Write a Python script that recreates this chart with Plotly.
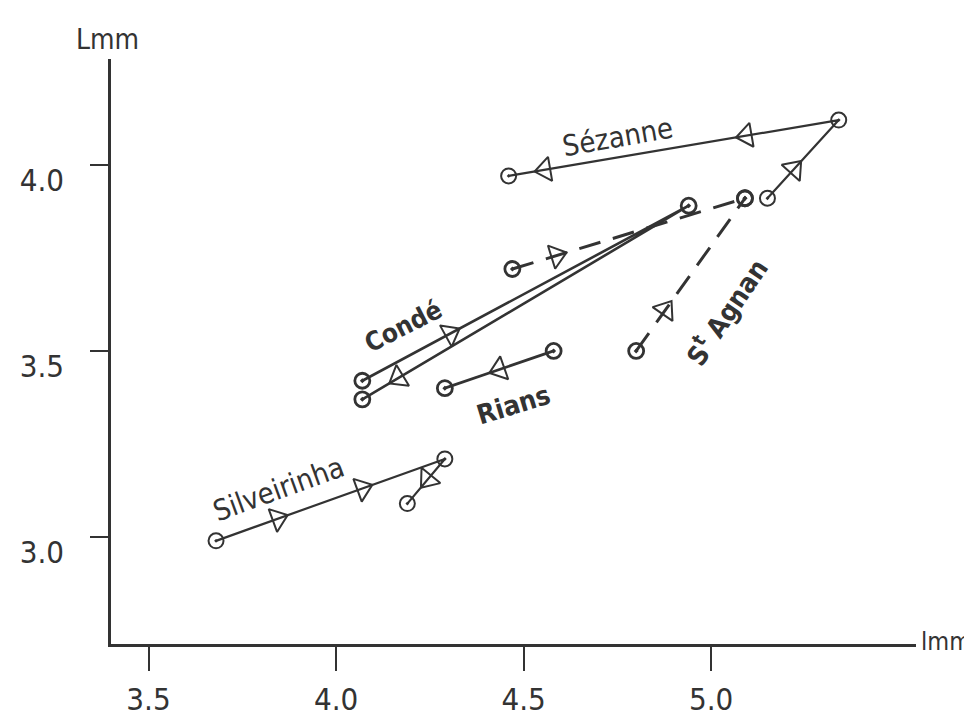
import plotly.graph_objects as go

# ---------------- data ----------------
sil_x = [3.68, 4.29, 4.19]
sil_y = [2.99, 3.21, 3.09]

rians_x = [4.58, 4.29]
rians_y = [3.50, 3.40]

conde_x = [4.07, 4.94, 4.07]
conde_y = [3.42, 3.89, 3.37]

sez_x = [5.15, 5.34, 4.46]
sez_y = [3.91, 4.12, 3.97]

agnan1_x = [4.80, 5.09]
agnan1_y = [3.50, 3.91]

agnan2_x = [4.47, 5.09]
agnan2_y = [3.72, 3.91]

x_ticks = [3.5, 4.0, 4.5, 5.0]
x_tick_labels = ["3.5", "4.0", "4.5", "5.0"]
y_ticks = [3.0, 3.5, 4.0]
y_tick_labels = ["3.0", "3.5", "4.0"]

# ---------------- styling ----------------
INK = "#333333"
FONT = "DejaVu Sans Condensed, DejaVu Sans, sans-serif"

fig = go.Figure()


def add_path(xs, ys, dash="solid", arrow_fracs=None, circle_width=2.2, lw=2.4):
    fig.add_trace(go.Scatter(
        x=xs, y=ys, mode="lines+markers",
        line=dict(color=INK, width=lw, dash=dash),
        marker=dict(symbol="circle-open-dot", size=15, color=INK, opacity=1,
                    line=dict(color=INK, width=circle_width)),
        hoverinfo="skip", showlegend=False))
    if arrow_fracs:
        for i, fracs in enumerate(arrow_fracs):
            x0, y0, x1, y1 = xs[i], ys[i], xs[i + 1], ys[i + 1]
            for f in fracs:
                ax = x0 + f * (x1 - x0)
                ay = y0 + f * (y1 - y0)
                fig.add_trace(go.Scatter(
                    x=[x0, ax], y=[y0, ay], mode="markers",
                    marker=dict(symbol="triangle-up-open", size=[0, 21],
                                angleref="previous", angle=0, opacity=1,
                                color=INK, line=dict(color=INK, width=2.0)),
                    hoverinfo="skip", showlegend=False))


add_path(sil_x, sil_y, arrow_fracs=[[0.27, 0.64], [0.46]], circle_width=2.0, lw=2.2)
add_path(rians_x, rians_y, arrow_fracs=[[0.5]], circle_width=2.8, lw=2.8)
add_path(conde_x, conde_y, arrow_fracs=[[0.27], [0.89]], circle_width=2.8, lw=2.6)
add_path(sez_x, sez_y, arrow_fracs=[[0.375], [0.28, 0.89]], circle_width=2.0, lw=2.2)
add_path(agnan1_x, agnan1_y, dash="22px,13px", arrow_fracs=[[0.27]], circle_width=2.8, lw=3)
add_path(agnan2_x, agnan2_y, dash="22px,13px", arrow_fracs=[[0.19]], circle_width=2.8, lw=3)

# ---------------- series labels ----------------
labels = [
    ("Sézanne", 4.75, 4.075, -10, False, 29),
    ("Condé", 4.18, 3.567, -27, True, 26),
    ("Rians", 4.474, 3.355, -17, True, 27),
    ("Silveirinha", 3.846, 3.13, -20, False, 29),
    ("S<sup>t</sup> Agnan", 5.037, 3.606, -56, True, 27),
]
for text, lx, ly, ang, bold, size in labels:
    fig.add_annotation(
        x=lx, y=ly, xref="x", yref="y", text=f"<b>{text}</b>" if bold else text,
        showarrow=False, textangle=ang,
        font=dict(family=FONT, size=size, color=INK))

# axis titles
fig.add_annotation(x=0, y=1, xref="paper", yref="paper", text="Lmm",
                   showarrow=False, xanchor="center", yanchor="bottom",
                   xshift=-4, yshift=1,
                   font=dict(family=FONT, size=28, color=INK))
fig.add_annotation(x=1, y=0, xref="paper", yref="paper", text="lmm",
                   showarrow=False, xanchor="left", yanchor="middle",
                   xshift=3, yshift=3,
                   font=dict(family=FONT, size=25, color=INK))

fig.update_layout(
    width=972, height=721,
    margin=dict(l=94, r=64, t=51, b=63),
    paper_bgcolor="white", plot_bgcolor="white",
    font=dict(family=FONT, color=INK),
    xaxis=dict(range=[3.40, 5.546], showgrid=False, zeroline=False,
               showline=True, linecolor=INK, linewidth=2.5,
               ticks="outside", ticklen=24, tickwidth=1.8, tickcolor=INK,
               tickvals=x_ticks, ticktext=x_tick_labels,
               ticklabelstandoff=2,
               tickfont=dict(family=FONT, size=31, color=INK)),
    yaxis=dict(range=[2.713, 4.284], showgrid=False, zeroline=False,
               showline=True, linecolor=INK, linewidth=2.5,
               ticks="outside", ticklen=18, tickwidth=1.8, tickcolor=INK,
               tickvals=y_ticks, ticktext=y_tick_labels,
               ticklabelshift=15, ticklabelstandoff=20,
               tickfont=dict(family=FONT, size=31, color=INK)),
)

fig.write_html("out.html")
